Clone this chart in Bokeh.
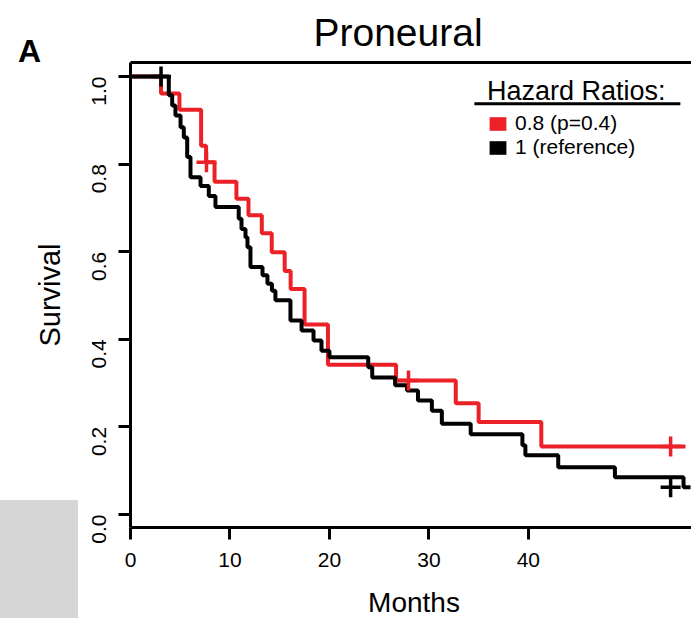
import math
from bokeh.plotting import figure
from bokeh.models import (Range1d, FixedTicker, NumeralTickFormatter, LinearAxis,
                          Legend, LegendItem, Label)
from bokeh.embed import file_html
from bokeh.resources import INLINE

# ---------------- data ----------------
red_times = [0, 3.07, 4.92, 7.10, 7.60, 8.45, 10.65, 11.86, 13.20, 14.20, 15.50, 16.10,
             17.50, 19.85, 26.70, 32.70, 35.00, 41.30, 55.80]
red_surv = [1.0, 0.961, 0.924, 0.842, 0.804, 0.760, 0.721, 0.683, 0.642, 0.599, 0.556, 0.515,
            0.434, 0.342, 0.306, 0.254, 0.211, 0.155, 0.155]
red_cens_t = [7.64, 27.95, 54.3]
red_cens_s = [0.804, 0.306, 0.155]

black_times = [0, 3.85, 4.19, 4.52, 5.03, 5.36, 5.70, 6.03, 7.04, 7.87, 8.54, 10.88, 11.16,
               11.56, 11.76, 12.06, 13.27, 13.77, 14.22, 14.57, 16.08, 17.20, 18.40, 19.20,
               20.00, 23.90, 24.30, 26.60, 27.80, 28.90, 30.30, 31.30, 34.20, 39.40, 39.70,
               43.00, 48.70, 55.60, 56.30]
black_surv = [1.0, 0.957, 0.934, 0.911, 0.884, 0.861, 0.816, 0.770, 0.750, 0.727, 0.702, 0.675,
              0.652, 0.633, 0.610, 0.565, 0.546, 0.527, 0.511, 0.489, 0.443, 0.420, 0.397,
              0.374, 0.359, 0.336, 0.313, 0.295, 0.283, 0.260, 0.237, 0.207, 0.183, 0.158,
              0.135, 0.108, 0.085, 0.062, 0.062]
black_cens_t = [3.07, 54.3]
black_cens_s = [1.0, 0.062]

x_ticks = [0, 10, 20, 30, 40]
y_ticks = [0.0, 0.2, 0.4, 0.6, 0.8, 1.0]
chart_title = "Proneural"
x_title = "Months"
y_title = "Survival"
legend_title = "Hazard Ratios:"
legend_labels = ["0.8 (p=0.4)", "1 (reference)"]

RED = "#ec2128"
BLACK = "#000000"
FONT = "Liberation Sans"

p = figure(width=691, height=618, output_backend="svg", toolbar_location=None,
           x_range=Range1d(0, 56.4), y_range=Range1d(-0.0297, 1.032),
           min_border_left=130, min_border_right=0, min_border_top=62, min_border_bottom=91,
           y_axis_label=y_title)
p.outline_line_color = None
p.xgrid.visible = False
p.ygrid.visible = False
p.background_fill_color = "white"
p.border_fill_color = None
# grey corner patch of the original picture (page background of the figure element)
p.styles = {"background-color": "#ffffff",
            "background-image": "linear-gradient(#d6d6d6, #d6d6d6)",
            "background-position": "0px 500px",
            "background-size": "78px 118px",
            "background-repeat": "no-repeat"}
p.title.visible = False

for ax in (p.xaxis[0], p.yaxis[0]):
    ax.axis_line_width = 3
    ax.axis_line_color = "black"
    ax.major_tick_line_width = 3
    ax.major_tick_in = 0
    ax.major_tick_out = 12
    ax.minor_tick_line_color = None
    ax.major_label_text_font = FONT
    ax.major_label_text_font_size = "21px"
    ax.major_label_text_color = "black"
    ax.axis_label_text_font = FONT
    ax.axis_label_text_font_size = "29px"
    ax.axis_label_text_font_style = "normal"
    ax.axis_label_text_color = "black"

p.xaxis[0].ticker = FixedTicker(ticks=x_ticks)
p.xaxis[0].major_label_standoff = 13

p.yaxis[0].ticker = FixedTicker(ticks=y_ticks)
p.yaxis[0].formatter = NumeralTickFormatter(format="0.0")
p.yaxis[0].major_label_orientation = math.pi / 2
p.yaxis[0].major_label_standoff = 19
p.yaxis[0].axis_label_standoff = 17

top_axis = LinearAxis(axis_line_width=3, axis_line_color="black", major_tick_out=0,
                      major_tick_in=0, minor_tick_line_color=None, major_label_standoff=0,
                      major_label_text_font_size="0px", ticker=FixedTicker(ticks=[]))
p.add_layout(top_axis, "above")

# chart title and x-axis title
ttl = Label(x=397.5, y=32, x_units="canvas", y_units="canvas", text=chart_title,
            text_font=FONT, text_font_size="39px", text_color="black",
            text_align="center", text_baseline="middle")
p.add_layout(ttl, "above")
xlab = Label(x=413.5, y=601.5, x_units="canvas", y_units="canvas", text=x_title,
             text_font=FONT, text_font_size="28px", text_color="black",
             text_align="center", text_baseline="middle")
p.add_layout(xlab, "below")

# survival curves
p.step(red_times, red_surv, mode="after", line_color=RED, line_width=4)
p.step(black_times, black_surv, mode="after", line_color=BLACK, line_width=4)
p.scatter(red_cens_t, red_cens_s, marker="cross", size=20, line_color=RED, line_width=3.5)
p.scatter(black_cens_t, black_cens_s, marker="cross", size=20, line_color=BLACK, line_width=3.5)

# legend (swatches only, no visible data)
nan = float("nan")
r_sq = p.quad(left=[nan], right=[nan], top=[nan], bottom=[nan], fill_color=RED, line_color=None)
k_sq = p.quad(left=[nan], right=[nan], top=[nan], bottom=[nan], fill_color=BLACK, line_color=None)
common = dict(label_text_font=FONT, label_text_font_size="21px", label_text_color="black",
              glyph_width=21, glyph_height=17, label_standoff=7, label_height=17,
              spacing=0, padding=0, margin=0,
              border_line_color=None, background_fill_alpha=0)
legend_a = Legend(items=[LegendItem(label=legend_labels[0], renderers=[r_sq])],
                  title=legend_title, location=(357, 392),
                  title_text_font=FONT, title_text_font_size="27px",
                  title_text_font_style="normal", title_text_color="black",
                  title_standoff=4, **common)
legend_b = Legend(items=[LegendItem(label=legend_labels[1], renderers=[k_sq])],
                  location=(357, 368), **common)
p.add_layout(legend_a)
p.add_layout(legend_b)
# underline below the legend title
p.segment(x0=[34.57], y0=[0.938], x1=[55.28], y1=[0.938], line_color="black", line_width=3)

# panel letter
lab = Label(x=29, y=50, x_units="canvas", y_units="canvas", text="A",
            text_font=FONT, text_font_size="32px", text_font_style="bold",
            text_color="black", text_align="center", text_baseline="middle")
p.add_layout(lab, "left")

open("out.html", "w").write(file_html(p, INLINE))
